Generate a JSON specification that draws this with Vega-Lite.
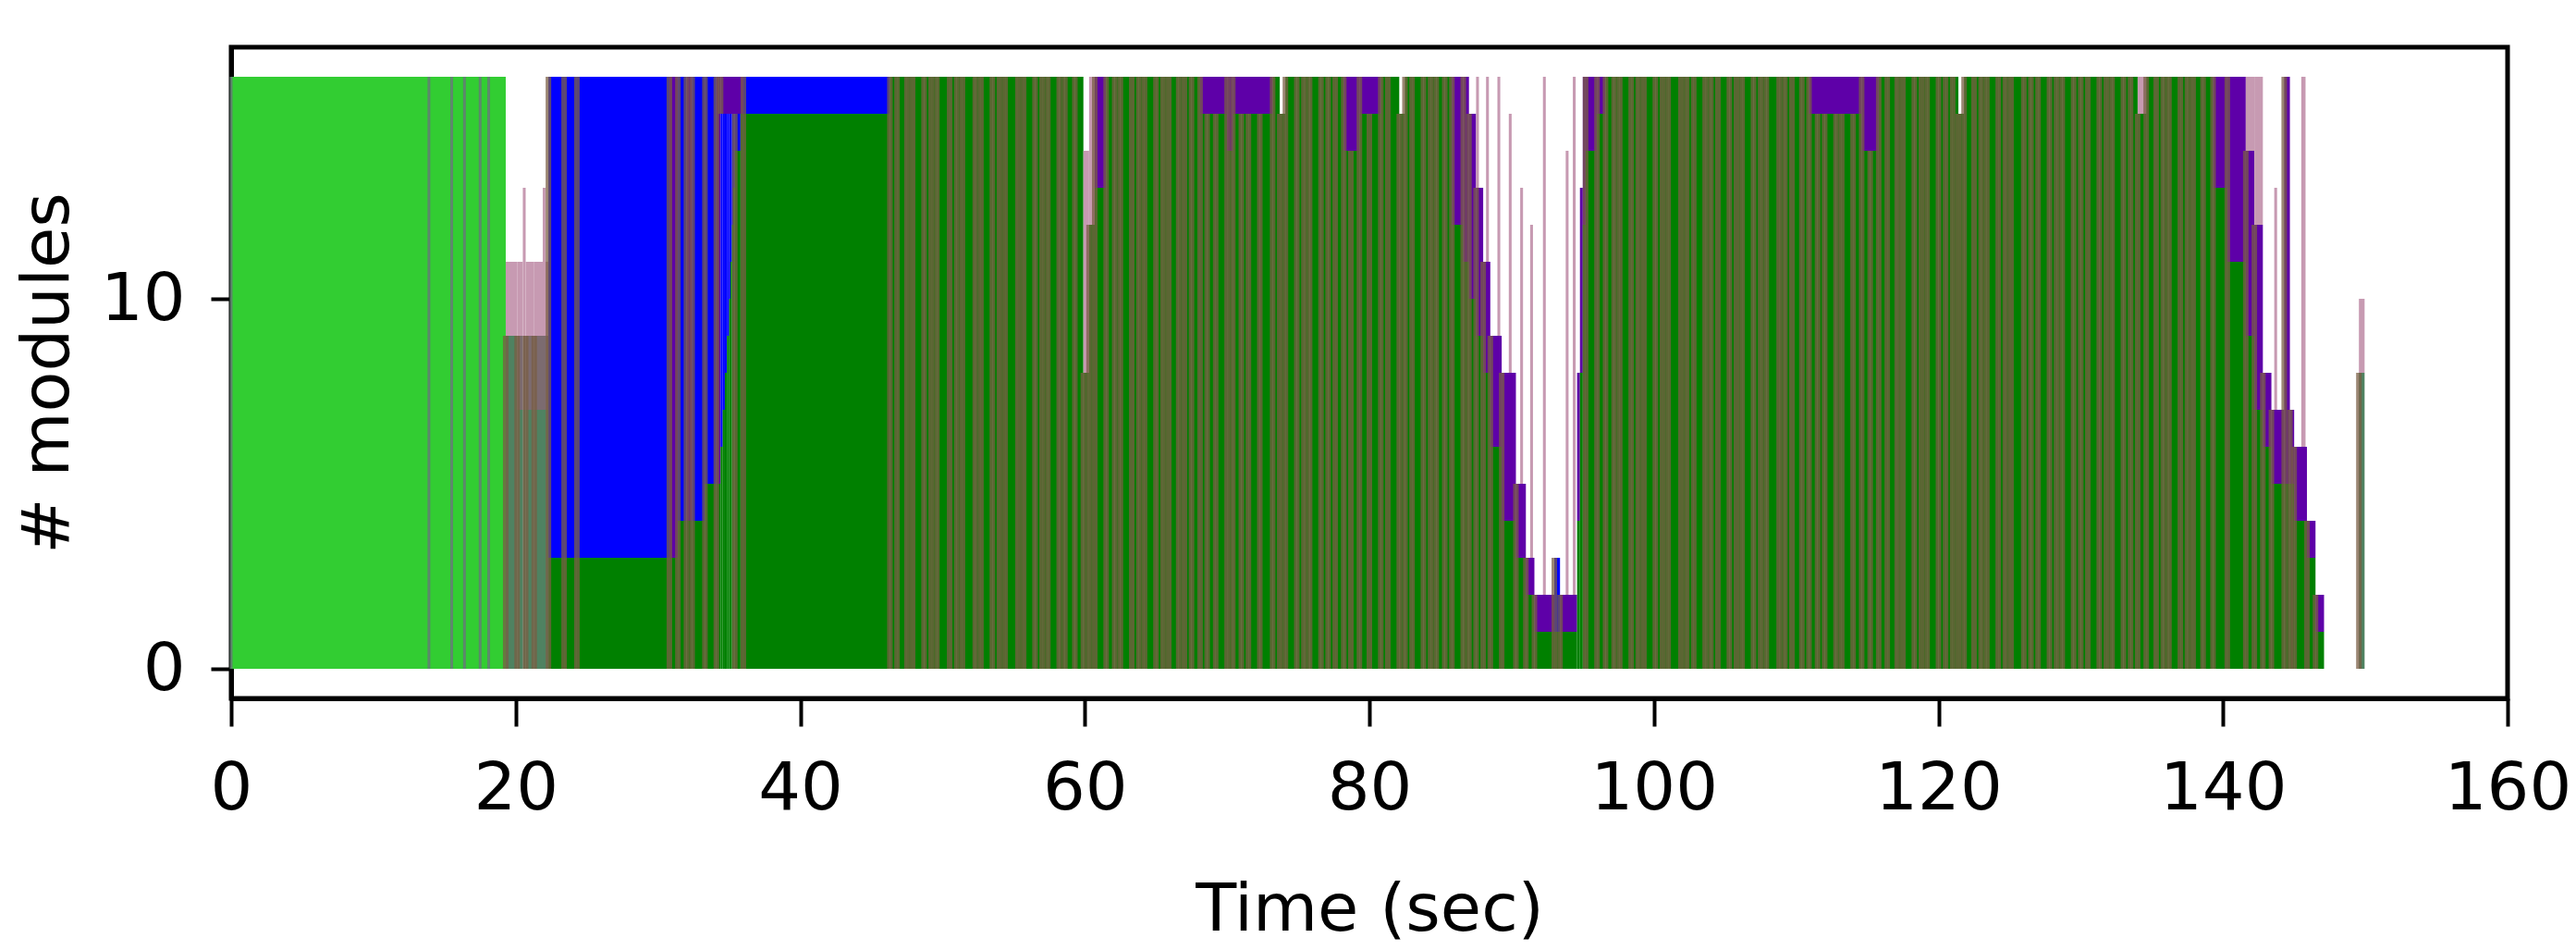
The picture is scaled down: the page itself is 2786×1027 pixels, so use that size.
{
  "$schema": "https://vega.github.io/schema/vega-lite/v6.json",
  "autosize": "none",
  "width": 2462,
  "height": 704,
  "padding": {"left": 250, "top": 51, "right": 74, "bottom": 272},
  "background": "white",
  "config": {
    "view": {"stroke": "black", "strokeWidth": 5},
    "axis": {
      "grid": false,
      "domainColor": "black",
      "domainWidth": 5,
      "tickColor": "black",
      "tickWidth": 4,
      "labelFont": "DejaVu Sans",
      "labelFontSize": 72,
      "labelColor": "black",
      "labelFlush": false,
      "titleFont": "DejaVu Sans",
      "titleFontSize": 72,
      "titleFontWeight": "normal",
      "titleColor": "black"
    }
  },
  "data": {
    "values": [
      {"t0": 0, "t1": 13.9, "lo": 0, "hi": 16, "s": "idle"},
      {"t0": 13.9, "t1": 15.5, "lo": 0, "hi": 16, "s": "idle"},
      {"t0": 15.5, "t1": 16.4, "lo": 0, "hi": 16, "s": "idle"},
      {"t0": 16.4, "t1": 17.5, "lo": 0, "hi": 16, "s": "idle"},
      {"t0": 17.5, "t1": 18.1, "lo": 0, "hi": 16, "s": "idle"},
      {"t0": 18.1, "t1": 19.3, "lo": 0, "hi": 16, "s": "idle"},

      {"t0": 19.3, "t1": 20.1, "lo": 0, "hi": 9, "s": "stalled"},
      {"t0": 19.3, "t1": 20.1, "lo": 9, "hi": 11, "s": "retry"},
      {"t0": 20.1, "t1": 20.5, "lo": 0, "hi": 7, "s": "stalled"},
      {"t0": 20.1, "t1": 20.5, "lo": 7, "hi": 9, "s": "blocked"},
      {"t0": 20.1, "t1": 20.5, "lo": 9, "hi": 11, "s": "retry"},
      {"t0": 20.5, "t1": 20.7, "lo": 0, "hi": 7, "s": "stalled"},
      {"t0": 20.5, "t1": 20.7, "lo": 7, "hi": 9, "s": "blocked"},
      {"t0": 20.5, "t1": 20.7, "lo": 9, "hi": 13, "s": "retry"},
      {"t0": 20.7, "t1": 21.3, "lo": 0, "hi": 7, "s": "stalled"},
      {"t0": 20.7, "t1": 21.3, "lo": 7, "hi": 9, "s": "blocked"},
      {"t0": 20.7, "t1": 21.3, "lo": 9, "hi": 11, "s": "retry"},
      {"t0": 21.3, "t1": 21.9, "lo": 0, "hi": 7, "s": "stalled"},
      {"t0": 21.3, "t1": 21.9, "lo": 7, "hi": 9, "s": "blocked"},
      {"t0": 21.3, "t1": 21.9, "lo": 9, "hi": 11, "s": "retry"},
      {"t0": 21.9, "t1": 22.1, "lo": 0, "hi": 7, "s": "stalled"},
      {"t0": 21.9, "t1": 22.1, "lo": 7, "hi": 9, "s": "blocked"},
      {"t0": 21.9, "t1": 22.1, "lo": 9, "hi": 13, "s": "retry"},
      {"t0": 22.1, "t1": 22.3, "lo": 0, "hi": 7, "s": "stalled"},
      {"t0": 22.1, "t1": 22.3, "lo": 7, "hi": 9, "s": "blocked"},
      {"t0": 22.1, "t1": 22.3, "lo": 9, "hi": 11, "s": "retry"},

      {"t0": 22.3, "t1": 23.4, "lo": 0, "hi": 3, "s": "done"},
      {"t0": 22.3, "t1": 23.4, "lo": 3, "hi": 16, "s": "queued"},
      {"t0": 23.4, "t1": 24.3, "lo": 0, "hi": 3, "s": "done"},
      {"t0": 23.4, "t1": 24.3, "lo": 3, "hi": 16, "s": "queued"},
      {"t0": 24.3, "t1": 30.8, "lo": 0, "hi": 3, "s": "done"},
      {"t0": 24.3, "t1": 30.8, "lo": 3, "hi": 16, "s": "queued"},
      {"t0": 30.8, "t1": 31.4, "lo": 0, "hi": 3, "s": "done"},
      {"t0": 30.8, "t1": 31.4, "lo": 3, "hi": 16, "s": "running"},
      {"t0": 31.4, "t1": 32.0, "lo": 0, "hi": 4, "s": "done"},
      {"t0": 31.4, "t1": 32.0, "lo": 4, "hi": 16, "s": "queued"},
      {"t0": 32.0, "t1": 32.4, "lo": 0, "hi": 4, "s": "done"},
      {"t0": 32.0, "t1": 32.4, "lo": 4, "hi": 16, "s": "running"},
      {"t0": 32.4, "t1": 33.3, "lo": 0, "hi": 4, "s": "done"},
      {"t0": 32.4, "t1": 33.3, "lo": 4, "hi": 16, "s": "queued"},
      {"t0": 33.3, "t1": 34.1, "lo": 0, "hi": 5, "s": "done"},
      {"t0": 33.3, "t1": 34.1, "lo": 5, "hi": 16, "s": "queued"},
      {"t0": 34.1, "t1": 34.4, "lo": 0, "hi": 5, "s": "done"},
      {"t0": 34.1, "t1": 34.4, "lo": 5, "hi": 16, "s": "running"},
      {"t0": 34.4, "t1": 34.55, "lo": 0, "hi": 6, "s": "done"},
      {"t0": 34.4, "t1": 34.55, "lo": 6, "hi": 15, "s": "queued"},
      {"t0": 34.55, "t1": 34.7, "lo": 0, "hi": 7, "s": "done"},
      {"t0": 34.55, "t1": 34.7, "lo": 7, "hi": 15, "s": "queued"},
      {"t0": 34.7, "t1": 34.85, "lo": 0, "hi": 8, "s": "done"},
      {"t0": 34.7, "t1": 34.85, "lo": 8, "hi": 15, "s": "queued"},
      {"t0": 34.85, "t1": 35.0, "lo": 0, "hi": 9, "s": "done"},
      {"t0": 34.85, "t1": 35.0, "lo": 9, "hi": 15, "s": "queued"},
      {"t0": 35.0, "t1": 35.1, "lo": 0, "hi": 10, "s": "done"},
      {"t0": 35.0, "t1": 35.1, "lo": 10, "hi": 15, "s": "queued"},
      {"t0": 35.1, "t1": 35.2, "lo": 0, "hi": 11, "s": "done"},
      {"t0": 35.1, "t1": 35.2, "lo": 11, "hi": 15, "s": "queued"},
      {"t0": 35.2, "t1": 35.3, "lo": 0, "hi": 12, "s": "done"},
      {"t0": 35.2, "t1": 35.3, "lo": 12, "hi": 15, "s": "queued"},
      {"t0": 35.3, "t1": 35.4, "lo": 0, "hi": 13, "s": "done"},
      {"t0": 35.3, "t1": 35.4, "lo": 13, "hi": 15, "s": "queued"},
      {"t0": 35.4, "t1": 35.8, "lo": 0, "hi": 14, "s": "done"},
      {"t0": 35.4, "t1": 35.8, "lo": 14, "hi": 15, "s": "queued"},
      {"t0": 35.8, "t1": 36.0, "lo": 0, "hi": 15, "s": "done"},
      {"t0": 34.4, "t1": 36.0, "lo": 15, "hi": 16, "s": "running"},
      {"t0": 36.0, "t1": 46.3, "lo": 0, "hi": 15, "s": "done"},
      {"t0": 36.0, "t1": 46.3, "lo": 15, "hi": 16, "s": "queued"},

      {"t0": 46.3, "t1": 46.8, "lo": 0, "hi": 16, "s": "done"},
      {"t0": 46.8, "t1": 47.5, "lo": 0, "hi": 16, "s": "done"},
      {"t0": 47.5, "t1": 47.9, "lo": 0, "hi": 16, "s": "done"},
      {"t0": 47.9, "t1": 48.7, "lo": 0, "hi": 16, "s": "done"},
      {"t0": 48.7, "t1": 49.2, "lo": 0, "hi": 16, "s": "done"},
      {"t0": 49.2, "t1": 49.6, "lo": 0, "hi": 16, "s": "done"},
      {"t0": 49.6, "t1": 50.5, "lo": 0, "hi": 16, "s": "done"},
      {"t0": 50.5, "t1": 51.0, "lo": 0, "hi": 16, "s": "done"},
      {"t0": 51.0, "t1": 51.4, "lo": 0, "hi": 16, "s": "done"},
      {"t0": 51.4, "t1": 52.3, "lo": 0, "hi": 16, "s": "done"},
      {"t0": 52.3, "t1": 52.7, "lo": 0, "hi": 16, "s": "done"},
      {"t0": 52.7, "t1": 53.5, "lo": 0, "hi": 16, "s": "done"},
      {"t0": 53.5, "t1": 54.0, "lo": 0, "hi": 16, "s": "done"},
      {"t0": 54.0, "t1": 54.4, "lo": 0, "hi": 16, "s": "done"},
      {"t0": 54.4, "t1": 55.3, "lo": 0, "hi": 16, "s": "done"},
      {"t0": 55.3, "t1": 55.7, "lo": 0, "hi": 16, "s": "done"},
      {"t0": 55.7, "t1": 56.5, "lo": 0, "hi": 16, "s": "done"},
      {"t0": 56.5, "t1": 57.0, "lo": 0, "hi": 16, "s": "done"},
      {"t0": 57.0, "t1": 57.4, "lo": 0, "hi": 16, "s": "done"},
      {"t0": 57.4, "t1": 58.2, "lo": 0, "hi": 16, "s": "done"},
      {"t0": 58.2, "t1": 58.6, "lo": 0, "hi": 16, "s": "done"},
      {"t0": 58.6, "t1": 59.3, "lo": 0, "hi": 16, "s": "done"},
      {"t0": 59.3, "t1": 59.9, "lo": 0, "hi": 16, "s": "done"},

      {"t0": 59.9, "t1": 60.3, "lo": 0, "hi": 8, "s": "done"},
      {"t0": 59.9, "t1": 60.3, "lo": 8, "hi": 14, "s": "retry"},
      {"t0": 60.3, "t1": 60.7, "lo": 0, "hi": 12, "s": "done"},
      {"t0": 60.3, "t1": 60.7, "lo": 12, "hi": 16, "s": "retry"},
      {"t0": 60.7, "t1": 61.5, "lo": 0, "hi": 13, "s": "done"},
      {"t0": 60.7, "t1": 61.5, "lo": 13, "hi": 16, "s": "running"},

      {"t0": 61.5, "t1": 62.1, "lo": 0, "hi": 16, "s": "done"},
      {"t0": 62.1, "t1": 62.5, "lo": 0, "hi": 16, "s": "done"},
      {"t0": 62.5, "t1": 63.3, "lo": 0, "hi": 16, "s": "done"},
      {"t0": 63.3, "t1": 63.8, "lo": 0, "hi": 16, "s": "done"},
      {"t0": 63.8, "t1": 64.2, "lo": 0, "hi": 16, "s": "done"},
      {"t0": 64.2, "t1": 65.0, "lo": 0, "hi": 16, "s": "done"},
      {"t0": 65.0, "t1": 65.5, "lo": 0, "hi": 16, "s": "done"},
      {"t0": 65.5, "t1": 65.9, "lo": 0, "hi": 16, "s": "done"},
      {"t0": 65.9, "t1": 66.6, "lo": 0, "hi": 16, "s": "done"},
      {"t0": 66.6, "t1": 67.0, "lo": 0, "hi": 16, "s": "done"},
      {"t0": 67.0, "t1": 67.5, "lo": 0, "hi": 16, "s": "done"},
      {"t0": 67.5, "t1": 68.1, "lo": 0, "hi": 16, "s": "done"},
      {"t0": 68.1, "t1": 68.6, "lo": 0, "hi": 15, "s": "done"},
      {"t0": 68.6, "t1": 69.2, "lo": 0, "hi": 15, "s": "done"},
      {"t0": 69.2, "t1": 70.0, "lo": 0, "hi": 15, "s": "done"},
      {"t0": 70.0, "t1": 70.4, "lo": 0, "hi": 14, "s": "done"},
      {"t0": 70.4, "t1": 71.0, "lo": 0, "hi": 15, "s": "done"},
      {"t0": 71.0, "t1": 71.5, "lo": 0, "hi": 15, "s": "done"},
      {"t0": 71.5, "t1": 72.3, "lo": 0, "hi": 15, "s": "done"},
      {"t0": 72.3, "t1": 73.2, "lo": 0, "hi": 15, "s": "done"},
      {"t0": 73.2, "t1": 73.7, "lo": 0, "hi": 16, "s": "done"},
      {"t0": 73.7, "t1": 74.1, "lo": 0, "hi": 15, "s": "done"},
      {"t0": 74.1, "t1": 74.9, "lo": 0, "hi": 16, "s": "done"},
      {"t0": 74.9, "t1": 75.4, "lo": 0, "hi": 16, "s": "done"},
      {"t0": 75.4, "t1": 75.8, "lo": 0, "hi": 16, "s": "done"},
      {"t0": 75.8, "t1": 76.6, "lo": 0, "hi": 16, "s": "done"},
      {"t0": 76.6, "t1": 77.1, "lo": 0, "hi": 16, "s": "done"},
      {"t0": 77.1, "t1": 77.6, "lo": 0, "hi": 16, "s": "done"},
      {"t0": 77.6, "t1": 78.2, "lo": 0, "hi": 16, "s": "done"},
      {"t0": 78.2, "t1": 78.7, "lo": 0, "hi": 14, "s": "done"},
      {"t0": 78.7, "t1": 79.3, "lo": 0, "hi": 14, "s": "done"},
      {"t0": 79.3, "t1": 80.0, "lo": 0, "hi": 15, "s": "done"},
      {"t0": 80.0, "t1": 80.8, "lo": 0, "hi": 15, "s": "done"},
      {"t0": 80.8, "t1": 81.3, "lo": 0, "hi": 16, "s": "done"},
      {"t0": 81.3, "t1": 82.1, "lo": 0, "hi": 16, "s": "done"},
      {"t0": 82.1, "t1": 82.5, "lo": 0, "hi": 15, "s": "done"},
      {"t0": 82.5, "t1": 83.0, "lo": 0, "hi": 16, "s": "done"},
      {"t0": 83.0, "t1": 83.8, "lo": 0, "hi": 16, "s": "done"},
      {"t0": 83.8, "t1": 84.3, "lo": 0, "hi": 16, "s": "done"},
      {"t0": 84.3, "t1": 84.7, "lo": 0, "hi": 16, "s": "done"},
      {"t0": 84.7, "t1": 85.3, "lo": 0, "hi": 16, "s": "done"},
      {"t0": 85.3, "t1": 85.8, "lo": 0, "hi": 16, "s": "done"},
      {"t0": 68.1, "t1": 70.0, "lo": 15, "hi": 16, "s": "running"},
      {"t0": 70.0, "t1": 70.4, "lo": 14, "hi": 16, "s": "running"},
      {"t0": 70.4, "t1": 73.2, "lo": 15, "hi": 16, "s": "running"},
      {"t0": 78.2, "t1": 79.3, "lo": 14, "hi": 16, "s": "running"},
      {"t0": 79.3, "t1": 80.8, "lo": 15, "hi": 16, "s": "running"},

      {"t0": 85.8, "t1": 86.6, "lo": 0, "hi": 12, "s": "done"},
      {"t0": 85.8, "t1": 86.6, "lo": 12, "hi": 16, "s": "running"},
      {"t0": 86.6, "t1": 87.0, "lo": 0, "hi": 11, "s": "done"},
      {"t0": 86.6, "t1": 87.0, "lo": 11, "hi": 16, "s": "running"},
      {"t0": 87.0, "t1": 87.5, "lo": 0, "hi": 10, "s": "done"},
      {"t0": 87.0, "t1": 87.5, "lo": 10, "hi": 15, "s": "running"},
      {"t0": 87.5, "t1": 88.0, "lo": 0, "hi": 9, "s": "done"},
      {"t0": 87.5, "t1": 88.0, "lo": 9, "hi": 13, "s": "running"},
      {"t0": 88.0, "t1": 88.5, "lo": 0, "hi": 8, "s": "done"},
      {"t0": 88.0, "t1": 88.5, "lo": 8, "hi": 11, "s": "running"},
      {"t0": 88.5, "t1": 89.3, "lo": 0, "hi": 6, "s": "done"},
      {"t0": 88.5, "t1": 89.3, "lo": 6, "hi": 9, "s": "running"},
      {"t0": 89.3, "t1": 90.3, "lo": 0, "hi": 4, "s": "done"},
      {"t0": 89.3, "t1": 90.3, "lo": 4, "hi": 8, "s": "running"},
      {"t0": 90.3, "t1": 91.0, "lo": 0, "hi": 3, "s": "done"},
      {"t0": 90.3, "t1": 91.0, "lo": 3, "hi": 5, "s": "running"},
      {"t0": 91.0, "t1": 91.6, "lo": 0, "hi": 2, "s": "done"},
      {"t0": 91.0, "t1": 91.6, "lo": 2, "hi": 3, "s": "running"},
      {"t0": 91.6, "t1": 93.0, "lo": 0, "hi": 1, "s": "done"},
      {"t0": 91.6, "t1": 93.0, "lo": 1, "hi": 2, "s": "running"},
      {"t0": 93.0, "t1": 93.4, "lo": 0, "hi": 1, "s": "done"},
      {"t0": 93.0, "t1": 93.4, "lo": 1, "hi": 3, "s": "queued"},
      {"t0": 93.4, "t1": 94.6, "lo": 0, "hi": 1, "s": "done"},
      {"t0": 93.4, "t1": 94.6, "lo": 1, "hi": 2, "s": "running"},
      {"t0": 94.6, "t1": 94.8, "lo": 0, "hi": 4, "s": "done"},
      {"t0": 94.6, "t1": 94.8, "lo": 4, "hi": 8, "s": "running"},
      {"t0": 94.8, "t1": 95.0, "lo": 0, "hi": 8, "s": "done"},
      {"t0": 94.8, "t1": 95.0, "lo": 8, "hi": 13, "s": "running"},
      {"t0": 95.0, "t1": 95.2, "lo": 0, "hi": 12, "s": "done"},
      {"t0": 95.0, "t1": 95.2, "lo": 12, "hi": 16, "s": "running"},
      {"t0": 95.2, "t1": 96.0, "lo": 0, "hi": 14, "s": "done"},
      {"t0": 95.2, "t1": 96.0, "lo": 14, "hi": 16, "s": "running"},
      {"t0": 96.0, "t1": 96.6, "lo": 0, "hi": 15, "s": "done"},
      {"t0": 96.0, "t1": 96.6, "lo": 15, "hi": 16, "s": "running"},
      {"t0": 87.5, "t1": 87.7, "lo": 13, "hi": 16, "s": "retry"},
      {"t0": 88.2, "t1": 88.4, "lo": 11, "hi": 16, "s": "retry"},
      {"t0": 89.0, "t1": 89.2, "lo": 9, "hi": 16, "s": "retry"},
      {"t0": 89.8, "t1": 90.0, "lo": 8, "hi": 15, "s": "retry"},
      {"t0": 90.6, "t1": 90.8, "lo": 5, "hi": 13, "s": "retry"},
      {"t0": 91.3, "t1": 91.5, "lo": 3, "hi": 12, "s": "retry"},
      {"t0": 92.2, "t1": 92.4, "lo": 2, "hi": 16, "s": "retry"},
      {"t0": 93.8, "t1": 94.0, "lo": 2, "hi": 14, "s": "retry"},
      {"t0": 94.3, "t1": 94.5, "lo": 2, "hi": 16, "s": "retry"},

      {"t0": 96.6, "t1": 97.2, "lo": 0, "hi": 16, "s": "done"},
      {"t0": 97.2, "t1": 97.6, "lo": 0, "hi": 16, "s": "done"},
      {"t0": 97.6, "t1": 98.4, "lo": 0, "hi": 16, "s": "done"},
      {"t0": 98.4, "t1": 98.9, "lo": 0, "hi": 16, "s": "done"},
      {"t0": 98.9, "t1": 99.3, "lo": 0, "hi": 16, "s": "done"},
      {"t0": 99.3, "t1": 100.1, "lo": 0, "hi": 16, "s": "done"},
      {"t0": 100.1, "t1": 100.6, "lo": 0, "hi": 16, "s": "done"},
      {"t0": 100.6, "t1": 101.0, "lo": 0, "hi": 16, "s": "done"},
      {"t0": 101.0, "t1": 101.9, "lo": 0, "hi": 16, "s": "done"},
      {"t0": 101.9, "t1": 102.3, "lo": 0, "hi": 16, "s": "done"},
      {"t0": 102.3, "t1": 102.8, "lo": 0, "hi": 16, "s": "done"},
      {"t0": 102.8, "t1": 103.6, "lo": 0, "hi": 16, "s": "done"},
      {"t0": 103.6, "t1": 104.0, "lo": 0, "hi": 16, "s": "done"},
      {"t0": 104.0, "t1": 104.5, "lo": 0, "hi": 16, "s": "done"},
      {"t0": 104.5, "t1": 105.3, "lo": 0, "hi": 16, "s": "done"},
      {"t0": 105.3, "t1": 105.8, "lo": 0, "hi": 16, "s": "done"},
      {"t0": 105.8, "t1": 106.2, "lo": 0, "hi": 16, "s": "done"},
      {"t0": 106.2, "t1": 107.0, "lo": 0, "hi": 16, "s": "done"},
      {"t0": 107.0, "t1": 107.5, "lo": 0, "hi": 16, "s": "done"},
      {"t0": 107.5, "t1": 107.9, "lo": 0, "hi": 16, "s": "done"},
      {"t0": 107.9, "t1": 108.8, "lo": 0, "hi": 16, "s": "done"},
      {"t0": 108.8, "t1": 109.2, "lo": 0, "hi": 16, "s": "done"},
      {"t0": 109.2, "t1": 109.7, "lo": 0, "hi": 16, "s": "done"},
      {"t0": 109.7, "t1": 110.4, "lo": 0, "hi": 16, "s": "done"},
      {"t0": 110.4, "t1": 110.9, "lo": 0, "hi": 16, "s": "done"},
      {"t0": 110.9, "t1": 111.5, "lo": 0, "hi": 15, "s": "done"},
      {"t0": 111.5, "t1": 112.0, "lo": 0, "hi": 15, "s": "done"},
      {"t0": 112.0, "t1": 112.8, "lo": 0, "hi": 15, "s": "done"},
      {"t0": 112.8, "t1": 113.2, "lo": 0, "hi": 15, "s": "done"},
      {"t0": 113.2, "t1": 114.0, "lo": 0, "hi": 15, "s": "done"},
      {"t0": 114.0, "t1": 114.6, "lo": 0, "hi": 15, "s": "done"},
      {"t0": 114.6, "t1": 115.2, "lo": 0, "hi": 14, "s": "done"},
      {"t0": 115.2, "t1": 115.8, "lo": 0, "hi": 14, "s": "done"},
      {"t0": 115.8, "t1": 116.4, "lo": 0, "hi": 16, "s": "done"},
      {"t0": 116.4, "t1": 117.1, "lo": 0, "hi": 16, "s": "done"},
      {"t0": 117.1, "t1": 117.5, "lo": 0, "hi": 16, "s": "done"},
      {"t0": 117.5, "t1": 118.3, "lo": 0, "hi": 16, "s": "done"},
      {"t0": 118.3, "t1": 118.8, "lo": 0, "hi": 16, "s": "done"},
      {"t0": 118.8, "t1": 119.2, "lo": 0, "hi": 16, "s": "done"},
      {"t0": 119.2, "t1": 120.0, "lo": 0, "hi": 16, "s": "done"},
      {"t0": 120.0, "t1": 120.5, "lo": 0, "hi": 16, "s": "done"},
      {"t0": 120.5, "t1": 121.0, "lo": 0, "hi": 16, "s": "done"},
      {"t0": 121.0, "t1": 121.4, "lo": 0, "hi": 16, "s": "done"},
      {"t0": 121.4, "t1": 121.8, "lo": 0, "hi": 15, "s": "done"},
      {"t0": 121.8, "t1": 122.5, "lo": 0, "hi": 16, "s": "done"},
      {"t0": 122.5, "t1": 123.0, "lo": 0, "hi": 16, "s": "done"},
      {"t0": 123.0, "t1": 123.4, "lo": 0, "hi": 16, "s": "done"},
      {"t0": 123.4, "t1": 124.2, "lo": 0, "hi": 16, "s": "done"},
      {"t0": 124.2, "t1": 124.7, "lo": 0, "hi": 16, "s": "done"},
      {"t0": 124.7, "t1": 125.1, "lo": 0, "hi": 16, "s": "done"},
      {"t0": 125.1, "t1": 126.0, "lo": 0, "hi": 16, "s": "done"},
      {"t0": 126.0, "t1": 126.5, "lo": 0, "hi": 16, "s": "done"},
      {"t0": 126.5, "t1": 127.0, "lo": 0, "hi": 16, "s": "done"},
      {"t0": 127.0, "t1": 127.8, "lo": 0, "hi": 16, "s": "done"},
      {"t0": 127.8, "t1": 128.3, "lo": 0, "hi": 16, "s": "done"},
      {"t0": 128.3, "t1": 128.7, "lo": 0, "hi": 16, "s": "done"},
      {"t0": 128.7, "t1": 129.5, "lo": 0, "hi": 16, "s": "done"},
      {"t0": 129.5, "t1": 130.0, "lo": 0, "hi": 16, "s": "done"},
      {"t0": 130.0, "t1": 130.5, "lo": 0, "hi": 16, "s": "done"},
      {"t0": 130.5, "t1": 131.3, "lo": 0, "hi": 16, "s": "done"},
      {"t0": 131.3, "t1": 131.8, "lo": 0, "hi": 16, "s": "done"},
      {"t0": 131.8, "t1": 132.2, "lo": 0, "hi": 16, "s": "done"},
      {"t0": 132.2, "t1": 133.0, "lo": 0, "hi": 16, "s": "done"},
      {"t0": 133.0, "t1": 133.5, "lo": 0, "hi": 16, "s": "done"},
      {"t0": 133.5, "t1": 134.0, "lo": 0, "hi": 16, "s": "done"},
      {"t0": 134.0, "t1": 134.6, "lo": 0, "hi": 15, "s": "done"},
      {"t0": 134.6, "t1": 135.3, "lo": 0, "hi": 16, "s": "done"},
      {"t0": 135.3, "t1": 135.8, "lo": 0, "hi": 16, "s": "done"},
      {"t0": 135.8, "t1": 136.2, "lo": 0, "hi": 16, "s": "done"},
      {"t0": 136.2, "t1": 137.0, "lo": 0, "hi": 16, "s": "done"},
      {"t0": 137.0, "t1": 137.5, "lo": 0, "hi": 16, "s": "done"},
      {"t0": 137.5, "t1": 137.9, "lo": 0, "hi": 16, "s": "done"},
      {"t0": 137.9, "t1": 138.6, "lo": 0, "hi": 16, "s": "done"},
      {"t0": 138.6, "t1": 139.3, "lo": 0, "hi": 16, "s": "done"},
      {"t0": 110.9, "t1": 114.6, "lo": 15, "hi": 16, "s": "running"},
      {"t0": 114.6, "t1": 115.8, "lo": 14, "hi": 16, "s": "running"},
      {"t0": 134.0, "t1": 134.6, "lo": 15, "hi": 16, "s": "retry"},

      {"t0": 139.3, "t1": 140.3, "lo": 0, "hi": 13, "s": "done"},
      {"t0": 139.3, "t1": 140.3, "lo": 13, "hi": 16, "s": "running"},
      {"t0": 140.3, "t1": 141.6, "lo": 0, "hi": 11, "s": "done"},
      {"t0": 140.3, "t1": 141.6, "lo": 11, "hi": 16, "s": "running"},
      {"t0": 141.6, "t1": 142.2, "lo": 0, "hi": 9, "s": "done"},
      {"t0": 141.6, "t1": 142.2, "lo": 9, "hi": 14, "s": "running"},
      {"t0": 141.6, "t1": 142.2, "lo": 14, "hi": 16, "s": "retry"},
      {"t0": 142.2, "t1": 142.8, "lo": 0, "hi": 7, "s": "done"},
      {"t0": 142.2, "t1": 142.8, "lo": 7, "hi": 12, "s": "running"},
      {"t0": 142.2, "t1": 142.8, "lo": 12, "hi": 16, "s": "retry"},
      {"t0": 142.8, "t1": 143.4, "lo": 0, "hi": 6, "s": "done"},
      {"t0": 142.8, "t1": 143.4, "lo": 6, "hi": 8, "s": "running"},
      {"t0": 143.4, "t1": 144.3, "lo": 0, "hi": 5, "s": "done"},
      {"t0": 143.4, "t1": 144.3, "lo": 5, "hi": 7, "s": "running"},
      {"t0": 143.6, "t1": 143.8, "lo": 7, "hi": 13, "s": "retry"},
      {"t0": 144.3, "t1": 144.7, "lo": 0, "hi": 5, "s": "done"},
      {"t0": 144.3, "t1": 144.7, "lo": 5, "hi": 16, "s": "running"},
      {"t0": 144.7, "t1": 145.0, "lo": 0, "hi": 5, "s": "done"},
      {"t0": 144.7, "t1": 145.0, "lo": 5, "hi": 7, "s": "running"},
      {"t0": 145.0, "t1": 145.9, "lo": 0, "hi": 4, "s": "done"},
      {"t0": 145.0, "t1": 145.9, "lo": 4, "hi": 6, "s": "running"},
      {"t0": 145.5, "t1": 145.8, "lo": 6, "hi": 16, "s": "retry"},
      {"t0": 145.9, "t1": 146.5, "lo": 0, "hi": 3, "s": "done"},
      {"t0": 145.9, "t1": 146.5, "lo": 3, "hi": 4, "s": "running"},
      {"t0": 146.5, "t1": 147.1, "lo": 0, "hi": 1, "s": "done"},
      {"t0": 146.5, "t1": 147.1, "lo": 1, "hi": 2, "s": "running"},

      {"t0": 149.55, "t1": 149.95, "lo": 0, "hi": 8, "s": "stalled"},
      {"t0": 149.55, "t1": 149.95, "lo": 8, "hi": 10, "s": "retry"}
    ]
  },
  "layer": [
    {
      "mark": {"type": "rect"},
      "encoding": {
        "x": {"field": "t0", "type": "quantitative",
              "scale": {"domain": [0, 160], "nice": false, "zero": false},
              "axis": {"values": [0, 20, 40, 60, 80, 100, 120, 140, 160], "tickSize": 30, "labelPadding": 32,
                       "title": "Time (sec)", "titleY": 250, "titleBaseline": "alphabetic"}},
        "x2": {"field": "t1"},
        "y": {"field": "lo", "type": "quantitative",
              "scale": {"domain": [-0.8, 16.8], "nice": false, "zero": false},
              "axis": {"values": [0, 10], "tickSize": 22, "labelPadding": 28,
                       "title": "# modules", "titleX": -177, "titleBaseline": "alphabetic"}},
        "y2": {"field": "hi"},
        "color": {"field": "s", "type": "nominal", "legend": null,
                  "scale": {"domain": ["idle", "done", "queued", "running", "retry", "stalled", "blocked"],
                            "range": ["#32cd32", "#008000", "#0000ff", "#5e00a8", "#c79ab2", "#4f8261", "#7c6b70"]}}
      }
    },
    {
      "transform": [{"filter": "datum.s === 'idle'"}],
      "mark": {"type": "rule", "color": "#5f8070", "strokeWidth": 3, "opacity": 0.9},
      "encoding": {
        "x": {"field": "t0", "type": "quantitative"},
        "y": {"field": "lo", "type": "quantitative"},
        "y2": {"field": "hi"}
      }
    },
    {
      "transform": [{"filter": "datum.s !== 'retry' && datum.s !== 'idle' && datum.t1 - datum.t0 > 0.25"}],
      "mark": {"type": "rule", "color": "#7a5e44", "strokeWidth": 6, "opacity": 0.75},
      "encoding": {
        "x": {"field": "t0", "type": "quantitative"},
        "y": {"field": "lo", "type": "quantitative"},
        "y2": {"field": "hi"}
      }
    }
  ]
}
